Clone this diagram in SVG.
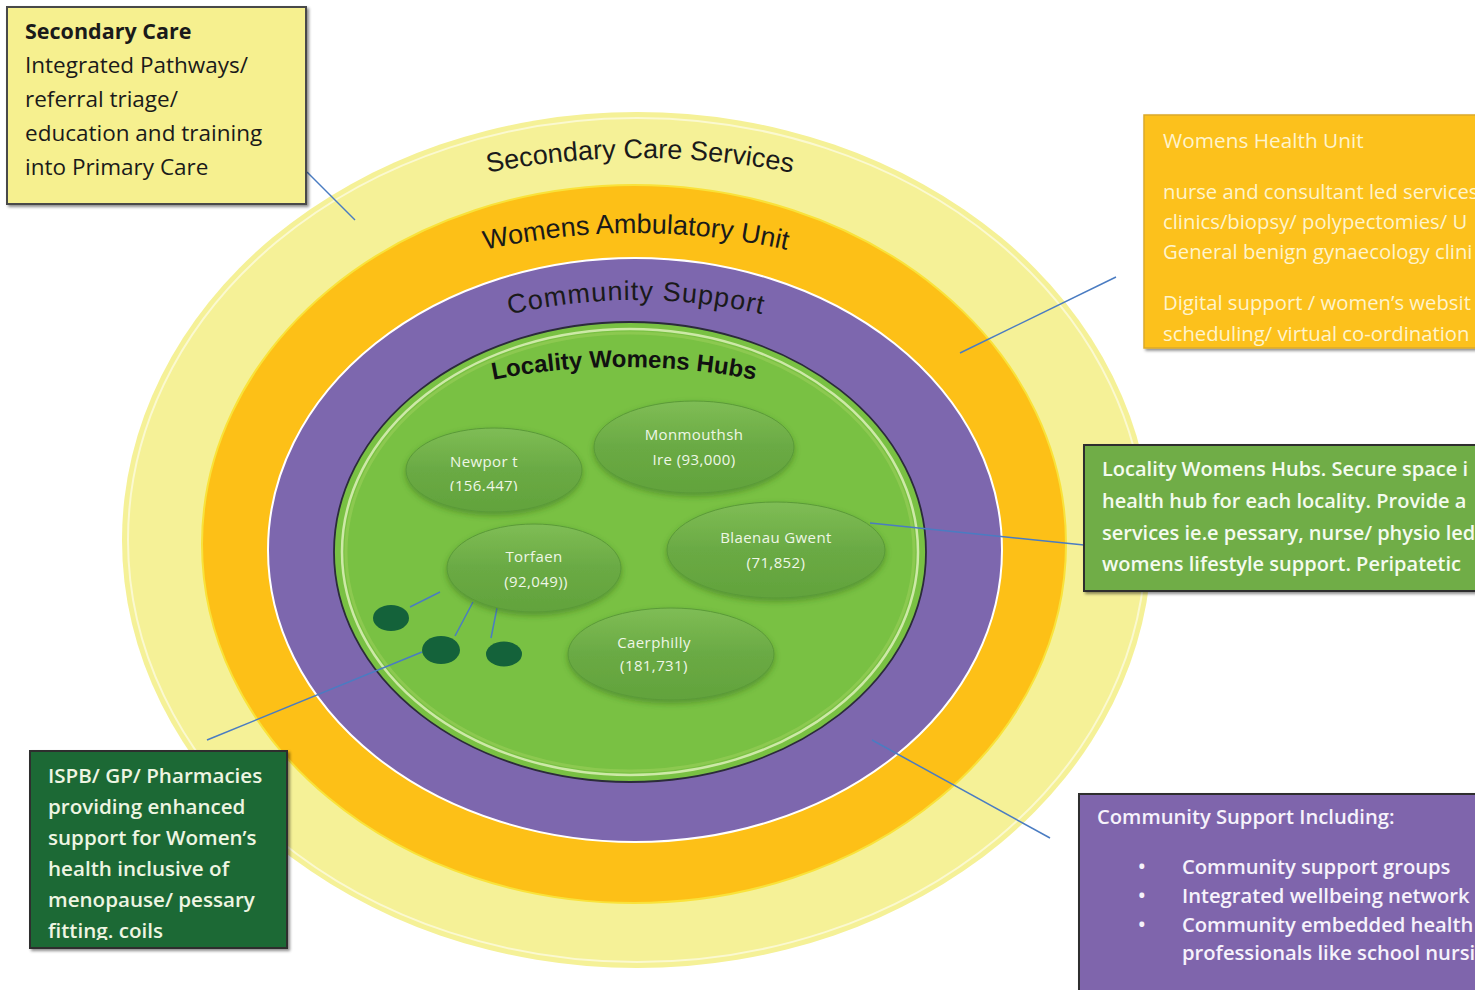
<svg xmlns="http://www.w3.org/2000/svg" width="1475" height="990" viewBox="0 0 1475 990">
  <defs>
    <style>
      .ring-label { font-family: "Liberation Sans", Arial, sans-serif; font-size: 27px; fill: #1a1a1a; }
      .hub-label { font-family: "Liberation Sans", Arial, sans-serif; font-size: 24px; font-weight: bold; fill: #111; }
      .box-text { font-family: "Open Sans", "Liberation Sans", sans-serif; }
      .loc { fill: url(#locGrad); stroke: #5a9a38; stroke-width: 1; filter: url(#soft); }
      .loc-text { font-family: "Open Sans", "Liberation Sans", sans-serif; font-size: 15px; fill: #eef7e6; text-anchor: middle; letter-spacing: 0.4px; }
      .dot { fill: #14623a; }
      .link { stroke: #4a7cc2; stroke-width: 1.5; fill: none; }
    </style>
    <linearGradient id="locGrad" x1="0" y1="0" x2="0" y2="1">
      <stop offset="0" stop-color="#7fbd55"/>
      <stop offset="0.5" stop-color="#6aaa44"/>
      <stop offset="1" stop-color="#62a33c"/>
    </linearGradient>
    <filter id="soft" x="-20%" y="-20%" width="140%" height="150%">
      <feDropShadow dx="0" dy="3" stdDeviation="3" flood-color="#2f5e1c" flood-opacity="0.45"/>
    </filter>
    <filter id="boxShadow" x="-5%" y="-5%" width="115%" height="115%">
      <feDropShadow dx="2" dy="2" stdDeviation="1.5" flood-color="#000" flood-opacity="0.45"/>
    </filter>
    <!-- baselines for the arched ring titles -->
    <path id="arcSecondary" d="M 480 174.2 A 800 800 0 0 1 800 174.2"/>
    <path id="arcAmbulatory" d="M 466 254.6 A 680 680 0 0 1 806 254.6"/>
    <path id="arcCommunity" d="M 476 323.3 A 560 560 0 0 1 796 323.3"/>
    <path id="arcHubs" d="M 464 386.1 A 680 680 0 0 1 784 386.1"/>
    <clipPath id="clipNewport"><rect x="400" y="440" width="200" height="51"/></clipPath>
    <clipPath id="clipIspb"><rect x="30" y="750" width="258" height="190"/></clipPath>
  </defs>

  <rect width="1475" height="990" fill="#ffffff"/>

  <!-- concentric service rings -->
  <g id="ring-secondary-care">
    <ellipse cx="637" cy="540" rx="515" ry="428" fill="#f5f197"/>
    <ellipse cx="637" cy="540" rx="509" ry="422" fill="none" stroke="#ffffff" stroke-opacity="0.55" stroke-width="2"/>
    <text class="ring-label"><textPath href="#arcSecondary" startOffset="50%" text-anchor="middle">Secondary Care Services</textPath></text>
  </g>
  <g id="ring-ambulatory">
    <ellipse cx="634" cy="544" rx="432" ry="359" fill="#fdc017" stroke="#f9e23a" stroke-width="2"/>
    <text class="ring-label"><textPath href="#arcAmbulatory" startOffset="50%" text-anchor="middle">Womens Ambulatory Unit</textPath></text>
  </g>
  <g id="ring-community">
    <ellipse cx="635" cy="550" rx="367" ry="292" fill="#7d67ae" stroke="#ffffff" stroke-width="2"/>
    <text class="ring-label" letter-spacing="1"><textPath href="#arcCommunity" startOffset="50%" text-anchor="middle">Community Support</textPath></text>
  </g>
  <g id="ring-hubs">
    <ellipse cx="630" cy="552" rx="296" ry="230" fill="#79c143" stroke="#2b2b3a" stroke-width="1.8"/>
    <ellipse cx="630" cy="552" rx="288" ry="223" fill="none" stroke="#e9f5c8" stroke-opacity="0.75" stroke-width="2.5"/>
    <ellipse cx="630" cy="552" rx="284" ry="219" fill="none" stroke="#9fd25e" stroke-opacity="0.5" stroke-width="3"/>
    <text class="hub-label"><textPath href="#arcHubs" startOffset="50%" text-anchor="middle">Locality Womens Hubs</textPath></text>
  </g>

  <!-- connectors -->
  <g id="connectors">
    <line class="link" x1="307" y1="172" x2="355" y2="220"/>
    <line class="link" x1="1116" y1="277" x2="960" y2="353"/>
    <line class="link" x1="870" y1="523" x2="1084" y2="545"/>
    <line class="link" x1="872" y1="740" x2="1050" y2="838"/>
    <line class="link" x1="207" y1="740" x2="422" y2="652"/>
    <line class="link" x1="410" y1="607" x2="440" y2="592"/>
    <line class="link" x1="455" y1="636" x2="473" y2="602"/>
    <line class="link" x1="491" y1="638" x2="497" y2="608"/>
  </g>

  <!-- locality hubs -->
  <g id="hub-newport">
    <ellipse class="loc" cx="494" cy="470" rx="88" ry="42"/>
    <text class="loc-text" clip-path="url(#clipNewport)"><tspan x="484" y="467">Newpor t</tspan><tspan x="484" y="491">(156.447)</tspan></text>
  </g>
  <g id="hub-monmouthshire">
    <ellipse class="loc" cx="694" cy="447" rx="100" ry="46"/>
    <text class="loc-text"><tspan x="694" y="440">Monmouthsh</tspan><tspan x="694" y="465">Ire (93,000)</tspan></text>
  </g>
  <g id="hub-blaenau-gwent">
    <ellipse class="loc" cx="776" cy="550" rx="109" ry="48"/>
    <text class="loc-text"><tspan x="776" y="543">Blaenau Gwent</tspan><tspan x="776" y="568">(71,852)</tspan></text>
  </g>
  <g id="hub-torfaen">
    <ellipse class="loc" cx="534" cy="568" rx="87" ry="44"/>
    <text class="loc-text"><tspan x="534" y="562">Torfaen</tspan><tspan x="536" y="587">(92,049))</tspan></text>
  </g>
  <g id="hub-caerphilly">
    <ellipse class="loc" cx="671" cy="654" rx="103" ry="46"/>
    <text class="loc-text"><tspan x="654" y="648">Caerphilly</tspan><tspan x="654" y="671">(181,731)</tspan></text>
  </g>
  <g id="satellite-points">
    <ellipse class="dot" cx="391" cy="618" rx="18" ry="13"/>
    <ellipse class="dot" cx="441" cy="650" rx="19" ry="14"/>
    <ellipse class="dot" cx="504" cy="654" rx="18" ry="12.5"/>
  </g>

  <!-- callout boxes -->
  <g id="box-secondary-care">
    <rect x="7" y="7" width="299" height="197" fill="#f6f08f" stroke="#4a4a4a" stroke-width="2" filter="url(#boxShadow)"/>
    <text class="box-text" fill="#1a1a1a" font-size="22.5">
      <tspan x="25" y="39" font-weight="bold" font-size="21.5">Secondary Care</tspan>
      <tspan x="25" y="73">Integrated Pathways/</tspan>
      <tspan x="25" y="107">referral triage/</tspan>
      <tspan x="25" y="141">education and training</tspan>
      <tspan x="25" y="175">into Primary Care</tspan>
    </text>
  </g>
  <g id="box-womens-health-unit">
    <rect x="1144" y="115" width="340" height="233" fill="#fcc11b" stroke="#dba92a" stroke-width="1.5" filter="url(#boxShadow)"/>
    <text class="box-text" fill="#fff4cc" font-size="20.3">
      <tspan x="1163" y="148" font-size="20.8">Womens Health Unit</tspan>
      <tspan x="1163" y="199">nurse and consultant led services</tspan>
      <tspan x="1163" y="229">clinics/biopsy/ polypectomies/ U</tspan>
      <tspan x="1163" y="259">General benign gynaecology clini</tspan>
      <tspan x="1163" y="310">Digital support / women’s websit</tspan>
      <tspan x="1163" y="341">scheduling/ virtual co-ordination</tspan>
    </text>
  </g>
  <g id="box-locality-hubs">
    <rect x="1084" y="445" width="400" height="146" fill="#70ad47" stroke="#2d2d2d" stroke-width="2" filter="url(#boxShadow)"/>
    <text class="box-text" fill="#f4fbef" font-size="20" font-weight="600">
      <tspan x="1102" y="476">Locality Womens Hubs. Secure space i</tspan>
      <tspan x="1102" y="508">health hub for each locality. Provide a</tspan>
      <tspan x="1102" y="540">services ie.e pessary, nurse/ physio led</tspan>
      <tspan x="1102" y="571">womens lifestyle support.  Peripatetic</tspan>
    </text>
  </g>
  <g id="box-community-support">
    <rect x="1079" y="794" width="405" height="205" fill="#7f65ac" stroke="#2d2d2d" stroke-width="2" filter="url(#boxShadow)"/>
    <text class="box-text" fill="#f6f2fb" font-size="20.2" font-weight="600">
      <tspan x="1097" y="824">Community Support Including:</tspan>
      <tspan x="1138" y="874">•</tspan><tspan x="1182" y="874">Community support groups</tspan>
      <tspan x="1138" y="903">•</tspan><tspan x="1182" y="903">Integrated wellbeing network</tspan>
      <tspan x="1138" y="932">•</tspan><tspan x="1182" y="932">Community embedded health</tspan>
      <tspan x="1182" y="960">professionals like school nursi</tspan>
    </text>
  </g>
  <g id="box-primary-care">
    <rect x="30" y="751" width="257" height="197" fill="#1d6935" stroke="#2d2d2d" stroke-width="2" filter="url(#boxShadow)"/>
    <text class="box-text" fill="#eef5e2" font-size="20.6" font-weight="600" clip-path="url(#clipIspb)">
      <tspan x="48" y="783">ISPB/ GP/ Pharmacies</tspan>
      <tspan x="48" y="814">providing enhanced</tspan>
      <tspan x="48" y="845">support for Women’s</tspan>
      <tspan x="48" y="876">health inclusive of</tspan>
      <tspan x="48" y="907">menopause/ pessary</tspan>
      <tspan x="48" y="938">fitting. coils</tspan>
    </text>
  </g>
</svg>
